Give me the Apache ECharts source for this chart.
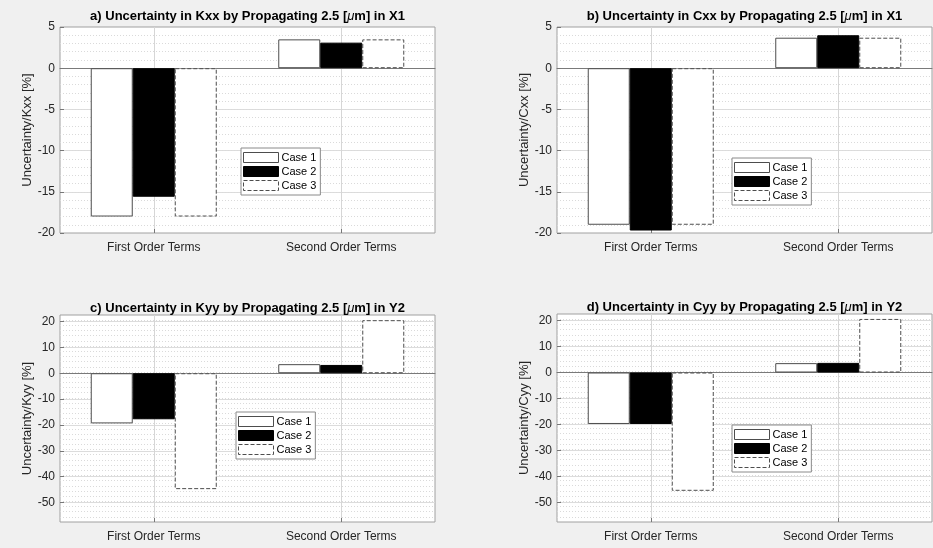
<!DOCTYPE html>
<html lang="en">
<head>
<meta charset="UTF-8" />
<title>Uncertainty by propagating 2.5 um</title>
<script src="https://cdn.jsdelivr.net/npm/echarts@6/dist/echarts.min.js"></script>
<style>
  html, body { margin: 0; padding: 0; background: #f0f0f0; }
  #main { width: 933px; height: 548px; }
</style>
</head>
<body>
<div id="main"></div>
<script>
// ---- data ----
var categories = ['First Order Terms', 'Second Order Terms'];
var caseNames = ['Case 1', 'Case 2', 'Case 3'];

// a) Kxx, X1
var kxxCase1 = [-18.0, 3.5];
var kxxCase2 = [-15.6, 3.1];
var kxxCase3 = [-18.0, 3.5];
// b) Cxx, X1
var cxxCase1 = [-19.0, 3.7];
var cxxCase2 = [-19.7, 4.0];
var cxxCase3 = [-19.0, 3.7];
// c) Kyy, Y2
var kyyCase1 = [-19.4, 3.5];
var kyyCase2 = [-17.8, 3.2];
var kyyCase3 = [-44.8, 20.5];
// d) Cyy, Y2
var cyyCase1 = [-19.8, 3.6];
var cyyCase2 = [-19.8, 3.7];
var cyyCase3 = [-45.5, 20.6];

var titles = [
  'a) Uncertainty in Kxx by Propagating 2.5 [{mu|μ}m] in X1',
  'b) Uncertainty in Cxx by Propagating 2.5 [{mu|μ}m] in X1',
  'c) Uncertainty in Kyy by Propagating 2.5 [{mu|μ}m] in Y2',
  'd) Uncertainty in Cyy by Propagating 2.5 [{mu|μ}m] in Y2'
];
var yNames = ['Uncertainty/Kxx [%]', 'Uncertainty/Cxx [%]', 'Uncertainty/Kyy [%]', 'Uncertainty/Cyy [%]'];

// y limits: top row [-20, 5], bottom row [-57.5, 22.5]
var yLimitsTop = [-20, 5];
var yLimitsBottom = [-57.5, 22.5];

// ---- layout ----
var FONT = '"Liberation Sans", Arial, sans-serif';
var TXT = '#262626';
var CLEAR = 'rgba(0,0,0,0)';

var panels = [
  { data: [kxxCase1, kxxCase2, kxxCase3], lim: yLimitsTop, grid: { left: 60, top: 27, width: 375, height: 206 }, leg: [241, 148], titleY: 10 },
  { data: [cxxCase1, cxxCase2, cxxCase3], lim: yLimitsTop, grid: { left: 557, top: 27, width: 375, height: 206 }, leg: [732, 158], titleY: 10 },
  { data: [kyyCase1, kyyCase2, kyyCase3], lim: yLimitsBottom, grid: { left: 60, top: 315, width: 375, height: 207 }, leg: [236, 412], titleY: 302 },
  { data: [cyyCase1, cyyCase2, cyyCase3], lim: yLimitsBottom, grid: { left: 557, top: 314, width: 375, height: 208 }, leg: [732, 425], titleY: 301 }
];

var caseStyles = [
  { color: '#ffffff', borderColor: '#4d4d4d', borderWidth: 1, borderType: 'solid' },
  { color: '#000000', borderColor: '#000000', borderWidth: 1, borderType: 'solid' },
  { color: '#ffffff', borderColor: '#4d4d4d', borderWidth: 1, borderType: [4, 2] }
];

var option = {
  backgroundColor: '#f0f0f0',
  animation: false,
  title: [], grid: [], xAxis: [], yAxis: [], legend: [], series: []
};

panels.forEach(function (p, i) {
  var g = p.grid;
  var small = p.lim === yLimitsTop;

  option.title.push({
    text: titles[i],
    left: g.left + g.width / 2,
    top: p.titleY,
    textAlign: 'center',
    padding: 0,
    textStyle: {
      fontFamily: FONT, fontSize: 13, fontWeight: 'bold', color: '#000',
      rich: { mu: { fontFamily: FONT, fontSize: 13, fontStyle: 'italic', fontWeight: 'normal', color: '#000' } }
    }
  });

  option.grid.push({
    left: g.left, top: g.top, width: g.width, height: g.height,
    show: true, backgroundColor: '#ffffff', borderColor: '#a0a0a0', borderWidth: 1
  });

  // category axis: labels and ticks
  option.xAxis.push({
    type: 'category', gridIndex: i, data: categories,
    axisLine: { show: false, onZero: false },
    axisTick: { show: true, inside: true, alignWithLabel: true, length: 4, lineStyle: { color: '#777' } },
    axisLabel: { fontFamily: FONT, fontSize: 12, color: TXT, margin: 9 },
    splitLine: { show: false }
  });
  // value axis on the same grid: vertical grid lines at categories + zero baseline
  option.xAxis.push({
    type: 'value', gridIndex: i, min: 0.5, max: 2.5, interval: 0.5,
    axisLine: { show: true, onZero: true, lineStyle: { color: '#7a7a7a', width: 1 } },
    axisTick: { show: false }, axisLabel: { show: false },
    splitLine: { show: true, lineStyle: { color: [CLEAR, '#d6d6d6'], width: 1 } }
  });

  var mainY = {
    type: 'value', gridIndex: i, min: p.lim[0], max: p.lim[1],
    name: yNames[i], nameLocation: 'middle', nameGap: 24,
    nameTextStyle: { fontFamily: FONT, fontSize: 13, color: TXT },
    axisLine: { show: false, onZero: false },
    axisTick: { show: true, inside: true, length: 4, lineStyle: { color: '#777' } },
    axisLabel: { fontFamily: FONT, fontSize: 12, color: TXT, margin: 5 },
    splitLine: { show: true, showMinLine: false, showMaxLine: false, lineStyle: { color: '#dcdcdc', width: 1 } }
  };
  if (small) {
    mainY.interval = 5;
  } else {
    mainY.splitNumber = 8;
    mainY.axisLabel.showMinLabel = false;
    mainY.axisLabel.showMaxLabel = false;
  }
  option.yAxis.push(mainY);

  // minor dotted grid
  option.yAxis.push({
    type: 'value', gridIndex: i, min: p.lim[0], max: p.lim[1],
    interval: small ? 1 : 0.5,
    axisLine: { show: false, onZero: false }, axisTick: { show: false }, axisLabel: { show: false },
    splitLine: {
      show: true, showMinLine: false, showMaxLine: false,
      lineStyle: { type: [1, 2], width: 1, color: small ? '#dadada' : [CLEAR, CLEAR, CLEAR, '#dadada'] }
    }
  });

  option.legend.push({
    orient: 'vertical', left: p.leg[0], top: p.leg[1],
    data: caseNames.map(function (name, k) {
      return { name: name, icon: 'rect', itemStyle: caseStyles[k] };
    }),
    backgroundColor: '#ffffff', borderColor: '#8a8a8a', borderWidth: 1,
    padding: [4, 4, 4, 2], itemGap: 3, itemWidth: 35, itemHeight: 10,
    selectedMode: false,
    textStyle: { fontFamily: FONT, fontSize: 11, color: '#000', padding: [0, 0, 0, -2] }
  });

  caseNames.forEach(function (name, k) {
    option.series.push({
      name: name, type: 'bar',
      xAxisIndex: 2 * i, yAxisIndex: 2 * i,
      data: p.data[k],
      barWidth: 42, barGap: '0%',
      itemStyle: caseStyles[k],
      emphasis: { disabled: true }
    });
  });
});

var chart = echarts.init(document.getElementById('main'));
chart.setOption(option);
</script>
</body>
</html>
